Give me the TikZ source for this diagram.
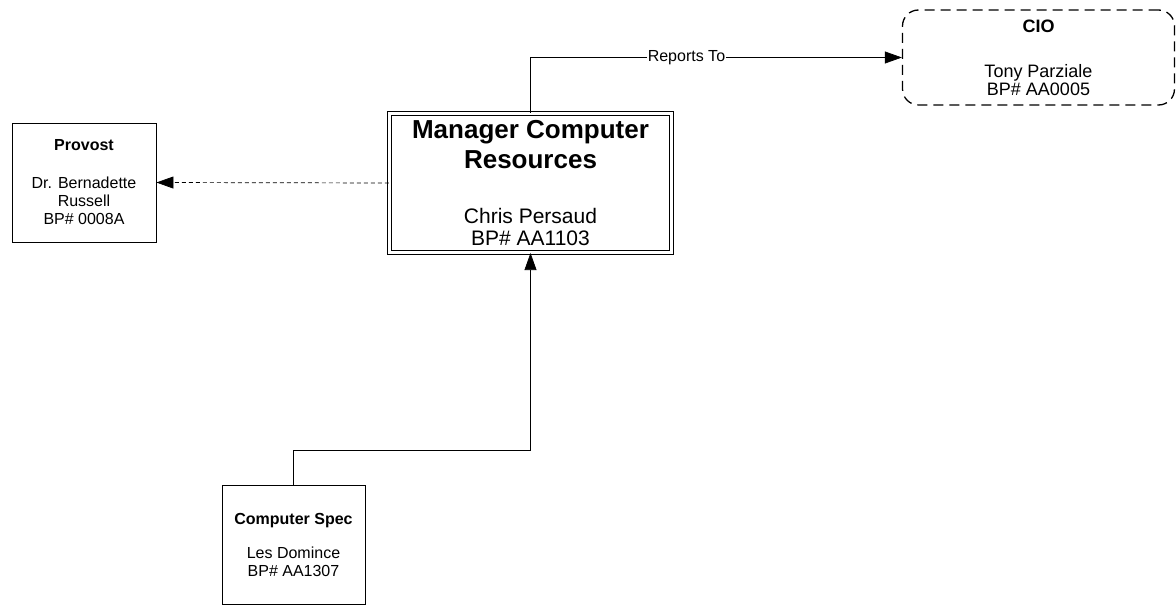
\documentclass[tikz,border=0pt]{standalone}
\usepackage{fontspec}
\setmainfont{Liberation Sans}
\usetikzlibrary{arrows.meta}
\newcommand\tightlines{\lineskiplimit=-50pt\relax\lineskip=0pt\relax}

\begin{document}
\begin{tikzpicture}[x=1pt,y=-1pt,
  box/.style={draw,line width=0.9pt,align=center,inner sep=0pt,
    font=\fontsize{16}{18}\selectfont},
  link/.style={line width=0.7pt,-{Triangle[length=17pt,width=12pt]}}]
  \useasboundingbox (0,0) rectangle (1176,605);
  % the boxes
  \node[box,line width=1.3pt,dash pattern=on 10pt off 6pt,rounded corners=16pt,
    minimum width=272pt,minimum height=95pt,
    font=\fontsize{18}{18}\selectfont] (cio) at (1038.5,57.5)
    {\textbf{CIO}\\[27pt]Tony Parziale\\BP\# AA0005};
  \node[box,minimum width=144pt,minimum height=119pt] (provost) at (84,182.5)
    {\textbf{Provost}\\[20pt]Dr. Bernadette\\Russell\\BP\# 0008A};
  \node[box,double,line width=1.1pt,double distance=2.4pt,
    minimum width=282pt,minimum height=139pt,
    font=\fontsize{21}{22}\selectfont\tightlines]
    (manager) at (530.5,183)
    {{\fontsize{26}{30}\selectfont\bfseries Manager Computer}\\[8pt]
     {\fontsize{26}{30}\selectfont\bfseries Resources}\\[33pt]
     Chris Persaud\\BP\# AA1103};
  \node[box,minimum width=143pt,minimum height=119pt] (spec) at (293.5,544.5)
    {\textbf{Computer Spec}\\[16pt]Les Domince\\BP\# AA1307};
  % the lines between them
  \draw[link] (manager.north) |- node[pos=0.71,fill=white,inner sep=1pt,
    font=\fontsize{16}{18}\selectfont] (rep) {Reports To} (cio.west);
  \draw[link,dash pattern=on 4pt off 3pt] (manager.west) -- (provost.east);
  \coordinate (bend) at (293.5,450);
  \draw[link] (spec.north) -- (bend) -| (manager.south);
\end{tikzpicture}
\end{document}
